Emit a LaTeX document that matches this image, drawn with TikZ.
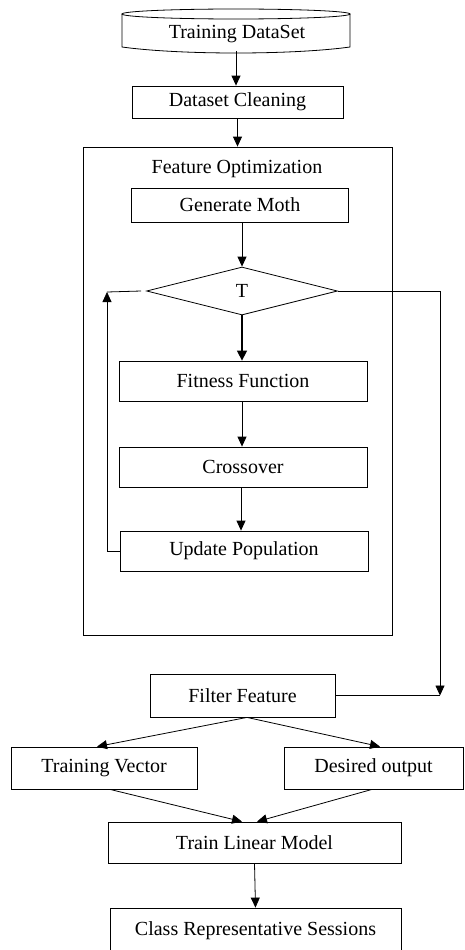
\documentclass[tikz,border=0pt]{standalone}
\usepackage{fontspec}
\setmainfont{Liberation Serif}
\usetikzlibrary{shapes.geometric,arrows.meta}
\begin{document}
\begin{tikzpicture}[x=1pt,y=-1pt,
  every node/.style={font=\fontsize{20}{23}\selectfont},
  box/.style={draw, line width=0.8pt, inner sep=0pt},
  ln/.style={line width=0.8pt},
  arr/.style={line width=0.8pt, -{Triangle[length=10pt,width=9pt]}},
  thickarr/.style={line width=1.5pt, -{Triangle[length=10pt,width=10pt]}}]
\useasboundingbox (0,0) rectangle (464,950);
% Training DataSet (drum shape)
\draw[ln] (122,14) -- (122,47) .. controls (180,55) and (292,55) .. (350,47) -- (350,14);
\draw[ln] (236,14) ellipse (114pt and 5pt);
\node[minimum width=228pt, minimum height=36pt] (tds) at (237,34) {Training DataSet};
\coordinate (tdsb) at (236,51);
% Dataset Cleaning
\node[box, minimum width=211pt, minimum height=32pt] (dc) at (237.5,102) {Dataset Cleaning};
% Feature Optimization container
\node[box, minimum width=309pt, minimum height=488pt] (fo) at (237.5,391) {};
\node (folabel) at (237,169) {Feature Optimization};
\node[box, minimum width=217pt, minimum height=34pt] (gm) at (240,205) {Generate Moth};
\node[draw, line width=0.8pt, diamond, aspect=4, inner sep=0pt, minimum width=191pt, minimum height=48pt] (dia) at (242,291) {T};
\node[box, minimum width=248pt, minimum height=40pt] (ff) at (243,381) {Fitness Function};
\node[box, minimum width=248pt, minimum height=40pt] (co) at (243,467) {Crossover};
\node[box, minimum width=248pt, minimum height=40pt] (up) at (244,551) {Update Population};
% Lower part
\node[box, minimum width=185pt, minimum height=43pt] (fi) at (242.5,695.5) {Filter Feature};
\node[box, minimum width=186pt, minimum height=42pt] (tv) at (104,768) {Training Vector};
\node[box, minimum width=179pt, minimum height=42pt] (do) at (373.5,768) {Desired output};
\node[box, minimum width=293pt, minimum height=41pt] (tlm) at (254.5,842.5) {Train Linear Model};
\node[box, minimum width=291pt, minimum height=46pt] (crs) at (255.5,931) {Class Representative Sessions};
% connectors
\draw[arr] (tdsb) -- (tdsb |- dc.north);
\draw[arr] (dc.south) -- (dc.south |- fo.north);
\draw[arr] (gm.south -| dia.north) -- (dia.north);
\draw[thickarr] (dia.south) -- (dia.south |- ff.north);
\draw[arr] (ff.south -| 242,0) -- (co.north -| 242,0);
\draw[arr] (co.south -| 241,0) -- (up.north -| 241,0);
% loop back
\coordinate (lc) at (107,292);
\draw[arr] (up.west) -| (lc);
\draw[ln] (lc) -- ([xshift=-5pt]dia.west);
% exit to filter feature
\coordinate (rc) at (440,291);
\draw[ln] (dia.east) -- (rc);
\draw[arr] (rc) -- (rc |- fi.east);
\draw[ln] (fi.east) -- (fi.east -| rc);
% split and merge
\draw[arr] ([xshift=4.5pt]fi.south) -- ([xshift=-7pt]tv.north);
\draw[arr] ([xshift=4.5pt]fi.south) -- ([xshift=6.5pt]do.north);
\draw[arr] ([xshift=6pt]tv.south) -- ([xshift=-12.5pt]tlm.north);
\draw[arr] ([xshift=-1.5pt]do.south) -- ([xshift=2.5pt]tlm.north);
\draw[arr] (tlm.south) -- (crs.north);
\end{tikzpicture}
\end{document}
